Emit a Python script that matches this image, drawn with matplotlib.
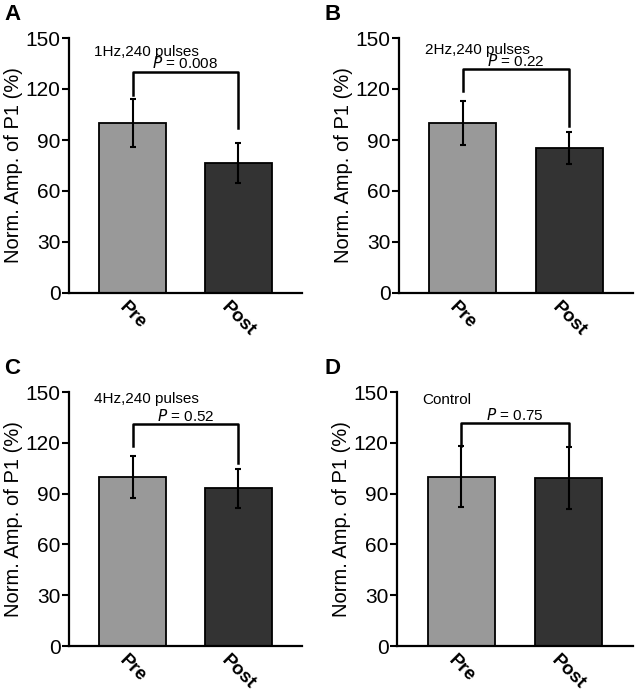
import matplotlib
matplotlib.use("Agg")
import matplotlib.pyplot as plt

plt.rcParams["font.family"] = ["Liberation Sans", "DejaVu Sans"]

# data
panels = ["A", "B", "C", "D"]
conditions = ["1Hz,240 pulses", "2Hz,240 pulses", "4Hz,240 pulses", "Control"]
groups = ["Pre", "Post"]
pre_mean = [100, 100, 100, 100]
pre_err = [14, 13, 12.5, 18]
post_mean = [76.5, 85.3, 93.1, 99.2]
post_err = [11.7, 9.6, 11.6, 18.1]
p_values = ["0.008", "0.22", "0.52", "0.75"]
# bracket: top, left leg end, right leg end
bracket_top = [130, 131.8, 131, 131.7]
bracket_left = [116.7, 119, 118.3, 118.3]
bracket_right = [97, 98, 108, 118.3]
cond_y = [142, 143, 145.6, 145]
p_y = [135, 136.7, 136, 136.5]

yticks = [0, 30, 60, 90, 120, 150]
bar_colors = ["#999999", "#333333"]

W, H = 638, 693
fig = plt.figure(figsize=(W / 100, H / 100), dpi=100)

# axes boxes in pixels: left, top, right, bottom
boxes = [(69, 38, 302, 293), (399, 38, 633, 293),
         (69, 392, 302, 646), (397, 392, 633, 646)]

for i, (x0, y0, x1, y1) in enumerate(boxes):
    ax = fig.add_axes([x0 / W, 1 - y1 / H, (x1 - x0) / W, (y1 - y0) / H])
    means = [pre_mean[i], post_mean[i]]
    errs = [pre_err[i], post_err[i]]
    ax.bar([0, 1], means, width=0.63, color=bar_colors,
           edgecolor="black", linewidth=1.3, zorder=2)
    ax.errorbar([0, 1], means, yerr=errs, fmt="none", ecolor="black",
                elinewidth=1.5, capsize=2.5, capthick=1.5, zorder=3)

    # significance bracket
    ax.plot([0, 0, 1, 1],
            [bracket_left[i], bracket_top[i], bracket_top[i], bracket_right[i]],
            color="black", lw=1.8, clip_on=False, zorder=4)
    ax.text(0.5, p_y[i], f"$\\it{{P}}$ = {p_values[i]}", ha="center",
            va="center", fontsize=11)
    ax.text(-0.36, cond_y[i], conditions[i], ha="left", va="center",
            fontsize=11)

    ax.set_xlim(-0.6, 1.6)
    ax.set_ylim(0, 150)
    ax.set_yticks(yticks)
    ax.set_yticklabels([str(t) for t in yticks], fontsize=15)
    ax.set_xticks([0, 1])
    ax.set_xticklabels(groups, rotation=-45, fontsize=13.5, fontweight="bold",
                       ha="center", va="top")
    ax.tick_params(axis="x", length=0, pad=4)
    ax.tick_params(axis="y", length=5, width=1.5, pad=1)
    ax.set_ylabel("Norm. Amp. of P1 (%)", fontsize=14.5, labelpad=2)
    for s in ["top", "right"]:
        ax.spines[s].set_visible(False)
    for s in ["left", "bottom"]:
        ax.spines[s].set_linewidth(1.6)

    fig.text((4 if x0 < 300 else 324) / W, 1 - (y0 - 23) / H, panels[i],
             fontsize=16, fontweight="bold", ha="left", va="center")

fig.savefig("out.png", dpi=100)
